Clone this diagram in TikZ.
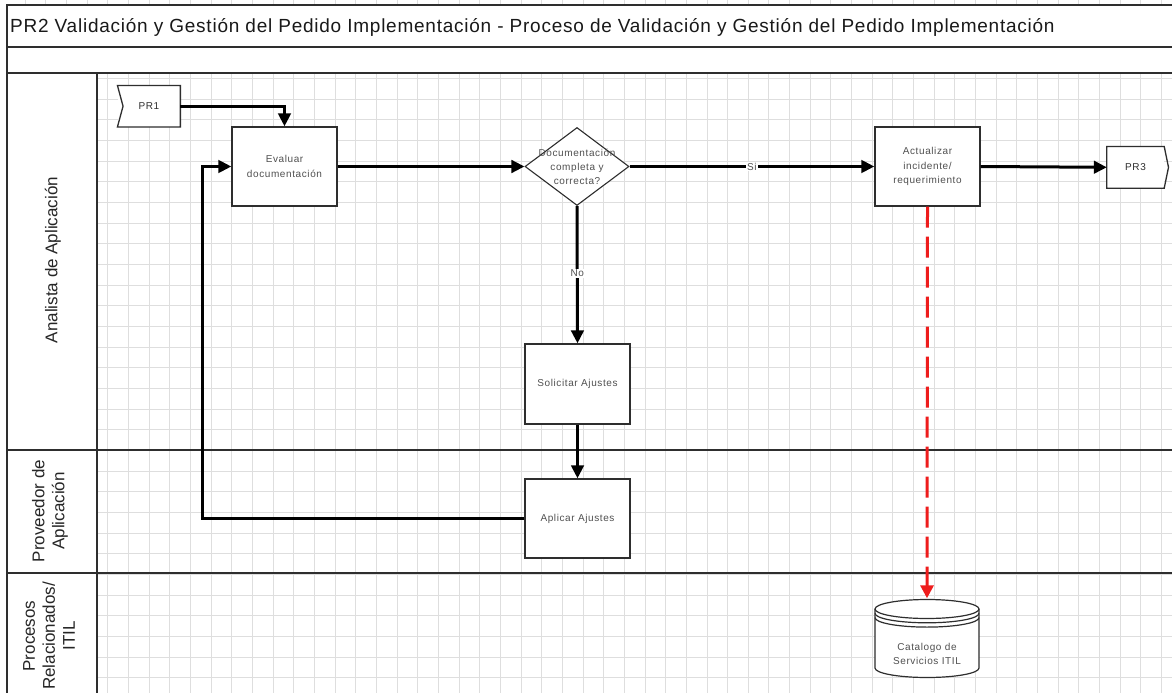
\documentclass[tikz,border=0pt]{standalone}
\usepackage{fontspec}
\setmainfont{Liberation Sans}
\newfontfamily\boxfont[LetterSpace=6]{Liberation Sans}
\newfontfamily\titlefont[LetterSpace=4]{Liberation Sans}
\usetikzlibrary{arrows.meta,calc,shapes.geometric}

\definecolor{gridgray}{HTML}{DEDEDE}
\definecolor{framegray}{HTML}{2E2E2E}
\definecolor{textgray}{HTML}{505050}
\definecolor{flowred}{HTML}{EE1C1C}

\tikzset{
  gridline/.style={draw=gridgray, line width=0.9pt},
  frame/.style={draw=framegray, line width=1.4pt},
  outline/.style={draw=framegray, line width=1.3pt},
  task/.style={draw=framegray, line width=1.3pt, fill=white,
    minimum width=105pt, minimum height=79pt, inner sep=2pt, align=center,
    font=\boxfont\fontsize{10}{14.5}\selectfont, text=textgray},
  procref/.style={fill=white, inner sep=0pt, align=center,
    font=\boxfont\fontsize{10}{12}\selectfont, text=framegray},
  decision/.style={diamond, draw=framegray, line width=1.1pt, fill=white,
    minimum width=104pt, minimum height=78pt, inner sep=0pt},
  dectext/.style={align=center, inner sep=0pt,
    font=\boxfont\fontsize{10}{14}\selectfont, text=textgray},
  flow/.style={draw=black, line width=3pt,
    -{Triangle[length=13pt,width=12.5pt]}},
  reddash/.style={draw=flowred, line width=3pt, dash pattern=on 21pt off 9pt,
    -{Triangle[length=13pt,width=13pt,fill=flowred]}},
  edgelabel/.style={fill=white, inner sep=1pt,
    font=\boxfont\fontsize{10}{12}\selectfont, text=textgray},
  lanelabel/.style={rotate=90, align=center, inner sep=0pt,
    font=\fontsize{17}{20}\selectfont, text=black!85},
}

\begin{document}
\begin{tikzpicture}[x=1pt, y=-1pt]
\useasboundingbox (0,0) rectangle (1172,693);
\fill[white] (0,0) rectangle (1172,693);

% background grid of the lanes
\foreach \i in {0,...,51}
  \draw[gridline] ({107.8+20.66*\i},73) -- ({107.8+20.66*\i},693);
\foreach \j in {0,...,29}
  \draw[gridline] (97,{78.5+20.66*\j}) -- (1172,{78.5+20.66*\j});
\foreach \i in {-4,...,51}
  \draw[gridline] ({107.8+20.66*\i},0) -- ({107.8+20.66*\i},5);

% pool frame and lanes
\fill[white] (7,5) rectangle (1172,73);
\draw[frame] (1172,5) -- (7,5) -- (7,693);
\draw[frame] (7,47) -- (1172,47);
\draw[frame] (7,73) -- (1172,73);
\draw[frame] (97,73) -- (97,693);
\draw[frame] (7,450) -- (1172,450);
\draw[frame] (7,573) -- (1172,573);

\node[anchor=west, inner sep=0pt, font=\titlefont\fontsize{19}{21}\selectfont, text=black!90] (title) at (10,27)
  {PR2 Validación y Gestión del Pedido Implementación - Proceso de Validación y Gestión del Pedido Implementación};

\node[lanelabel] (lane1) at (53,260) {Analista de Aplicación};
\node[lanelabel] (lane2) at (50,511) {Proveedor de\\Aplicación};
\node[lanelabel] (lane3) at (49,636) {Procesos\\Relacionados/\\ITIL};

% process references
\node[procref, minimum width=62.5pt, minimum height=41pt] (pr1) at (148.9,106.2) {PR1};
\draw[outline] (pr1.north west) -- (pr1.north east) -- (pr1.south east)
  -- (pr1.south west) -- ($(pr1.west)+(5.6,0)$) -- cycle;
\node[procref, minimum width=57pt, minimum height=41.3pt] (pr3) at (1135.5,167.3) {PR3};
\draw[outline] (pr3.north west) -- (pr3.north east) -- ($(pr3.east)+(4.3,0)$)
  -- (pr3.south east) -- (pr3.south west) -- cycle;

% activities
\node[task] (eval) at (284.5,166.5) {Evaluar\\documentación};
\node[decision, label={[dectext]center:{Documentación\\completa y\\correcta?}}] (dec) at (577,166.5) {};
\node[task] (act) at (927.5,166.5) {Actualizar\\incidente/\\requerimiento};
\node[task, minimum height=80pt] (sol) at (577.5,384) {Solicitar Ajustes};
\node[task] (apl) at (577.5,518.5) {Aplicar Ajustes};

% data store
\node[minimum width=110pt, minimum height=81pt, inner sep=0pt,
  label={[dectext, yshift=-15pt]center:{Catalogo de\\Servicios ITIL}},
  path picture={
    \coordinate (cc) at (path picture bounding box.center);
    \filldraw[fill=white, draw=framegray, line width=1.2pt]
      ($(cc)+(-52,-30)$) -- ($(cc)+(-52,29)$)
      arc[start angle=180, end angle=360, x radius=52pt, y radius=9.5pt]
      -- ($(cc)+(52,-30)$)
      arc[start angle=0, end angle=180, x radius=52pt, y radius=9.5pt] -- cycle;
    \foreach \d in {-30,-25.7,-21.4}
      \draw[draw=framegray, line width=1.2pt] ($(cc)+(-52,\d)$)
        arc[start angle=180, end angle=360, x radius=52pt, y radius=9.5pt];
  }] (cat) at (927,639) {};

% sequence flows
\draw[flow] (pr1.east) -| (eval.north);
\draw[flow] (eval.east) -- (dec.west);
\draw[flow] (dec.east) -- node[edgelabel] {Si} (act.west);
\draw[flow] (dec.south) -- node[edgelabel, pos=0.49] {No} (sol.north);
\draw[flow] (act.east) -- (pr3.west);
\draw[flow] (sol.south) -- (apl.north);
\coordinate (loopcorner) at (202,518.5);
\draw[flow] (apl.west) -- (loopcorner) |- (eval.west);

% data association
\draw[reddash] (act.south) -- (cat.north);
\end{tikzpicture}
\end{document}
